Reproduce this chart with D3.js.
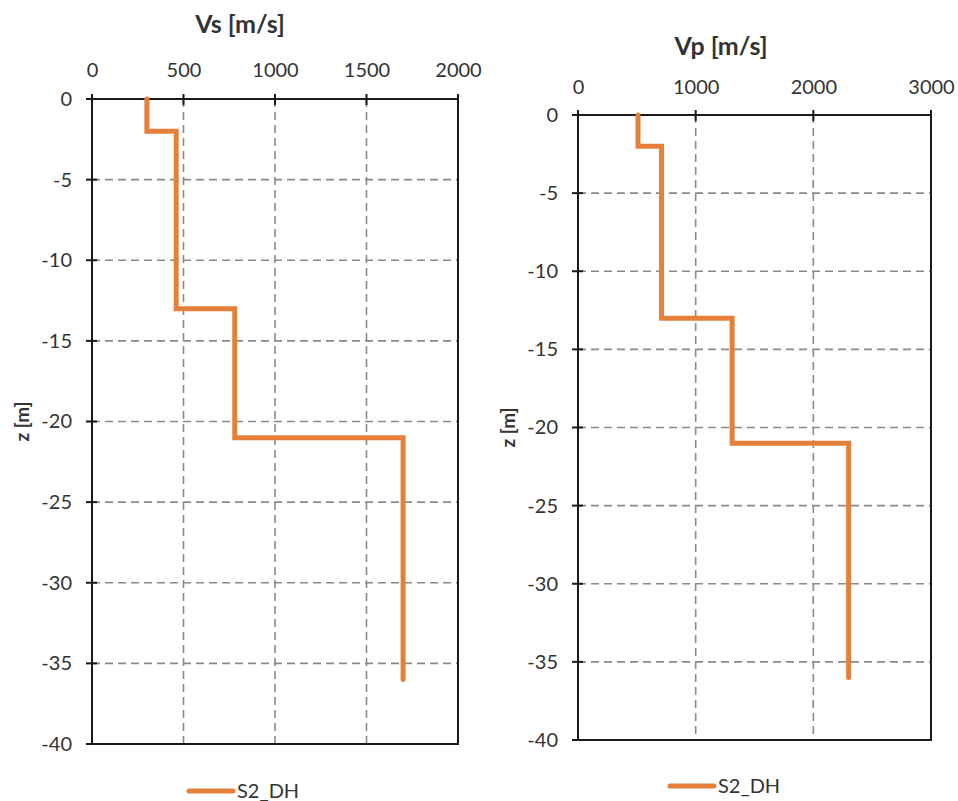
<!DOCTYPE html>
<html>
<head>
<meta charset="utf-8">
<script src="https://cdn.jsdelivr.net/npm/d3@7"></script>
<style>
  html, body { margin: 0; padding: 0; background: #fff; }
  svg { display: block; }
  text { font-family: Lato, "Open Sans", "DejaVu Sans", sans-serif; fill: #333; }
</style>
</head>
<body>
<svg id="chart" width="958" height="801"></svg>
<script>
// Layer boundaries (depth, m) and velocities per layer (m/s)
const depthBreaks = [0, -2, -13, -21, -36];
const vsValues = [300, 460, 780, 1700];
const vpValues = [510, 710, 1310, 2300];

const vsTicks = [0, 500, 1000, 1500, 2000];
const vpTicks = [0, 1000, 2000, 3000];
const zTicks = [0, -5, -10, -15, -20, -25, -30, -35, -40];

const seriesName = "S2_DH";
const lineColor = "#E5803A";

const svg = d3.select("#chart");
const fmt = d => String(d);

// Build stepped profile points from layer velocities
function profile(values) {
  const pts = [];
  values.forEach((v, i) => {
    pts.push([v, depthBreaks[i]]);
    pts.push([v, depthBreaks[i + 1]]);
  });
  return pts;
}

function panel(cfg) {
  const x = d3.scaleLinear().domain([0, cfg.xMax]).range([cfg.left, cfg.right]);
  const y = d3.scaleLinear().domain([0, -40]).range([cfg.top, cfg.bottom]);
  const g = svg.append("g");

  // dashed gridlines
  g.append("g").selectAll("line")
    .data(cfg.xTicks.filter(t => t > 0 && t < cfg.xMax))
    .join("line")
    .attr("x1", d => x(d)).attr("x2", d => x(d))
    .attr("y1", cfg.top).attr("y2", cfg.bottom)
    .attr("stroke", "#8a8a8a").attr("stroke-width", 1.6)
    .attr("stroke-dasharray", "8,5");
  g.append("g").selectAll("line")
    .data(zTicks.filter(t => t < 0 && t > -40))
    .join("line")
    .attr("x1", cfg.left).attr("x2", cfg.right)
    .attr("y1", d => y(d)).attr("y2", d => y(d))
    .attr("stroke", "#8a8a8a").attr("stroke-width", 1.6)
    .attr("stroke-dasharray", "8,5");

  // top axis
  const xAxis = d3.axisTop(x).tickValues(cfg.xTicks).tickSize(0).tickPadding(0).tickFormat(fmt);
  const xa = g.append("g").attr("transform", `translate(0,${cfg.top})`).call(xAxis);
  xa.select(".domain").remove();
  xa.selectAll("text")
    .attr("y", cfg.xLabelY - cfg.top)
    .attr("dy", "0.35em")
    .style("font-size", "20px").style("fill", "#333");
  g.append("g").selectAll("line")
    .data(cfg.xTicks)
    .join("line")
    .attr("x1", d => x(d)).attr("x2", d => x(d))
    .attr("y1", cfg.top - 5).attr("y2", cfg.top + 6)
    .attr("stroke", "#1a1a1a").attr("stroke-width", 2);

  // left axis
  const yAxis = d3.axisLeft(y).tickValues(zTicks).tickSize(0).tickPadding(20).tickFormat(fmt);
  const ya = g.append("g").attr("transform", `translate(${cfg.left},0)`).call(yAxis);
  ya.select(".domain").remove();
  ya.selectAll("text").style("font-size", "20px").style("fill", "#333");
  g.append("g").selectAll("line")
    .data(zTicks)
    .join("line")
    .attr("x1", cfg.left - 6).attr("x2", cfg.left + 5)
    .attr("y1", d => y(d)).attr("y2", d => y(d))
    .attr("stroke", "#1a1a1a").attr("stroke-width", 2);

  // frame
  g.append("rect")
    .attr("x", cfg.left).attr("y", cfg.top)
    .attr("width", cfg.right - cfg.left).attr("height", cfg.bottom - cfg.top)
    .attr("fill", "none").attr("stroke", "#1a1a1a").attr("stroke-width", 2);

  // profile line
  const line = d3.line().x(d => x(d[0])).y(d => y(d[1]));
  g.append("path")
    .datum(profile(cfg.values))
    .attr("d", line)
    .attr("fill", "none")
    .attr("stroke", lineColor)
    .attr("stroke-width", 5)
    .attr("stroke-linecap", "round")
    .attr("stroke-linejoin", "miter");

  // titles
  g.append("text")
    .attr("x", cfg.titleX).attr("y", cfg.titleY)
    .attr("text-anchor", "middle").attr("dy", "0.35em")
    .style("font-size", "25px").style("font-weight", "bold").style("fill", "#333")
    .text(cfg.title);
  g.append("text")
    .attr("transform", `translate(${cfg.zTitleX},${(cfg.top + cfg.bottom) / 2}) rotate(-90)`)
    .attr("text-anchor", "middle").attr("dy", "0.35em")
    .style("font-size", "19px").style("font-weight", "bold").style("fill", "#333")
    .text("z [m]");

  // legend
  g.append("line")
    .attr("x1", cfg.legendX).attr("x2", cfg.legendX + 44)
    .attr("y1", cfg.legendY).attr("y2", cfg.legendY)
    .attr("stroke", lineColor).attr("stroke-width", 5).attr("stroke-linecap", "round");
  g.append("text")
    .attr("x", cfg.legendX + 48).attr("y", cfg.legendY)
    .attr("dy", "0.35em")
    .style("font-size", "20px").style("fill", "#333")
    .text(seriesName);
}

panel({
  values: vsValues, xMax: 2000, xTicks: vsTicks,
  left: 92, right: 458, top: 99, bottom: 744,
  xLabelY: 70, title: "Vs [m/s]", titleX: 240, titleY: 24,
  zTitleX: 22, legendX: 189, legendY: 791
});

panel({
  values: vpValues, xMax: 3000, xTicks: vpTicks,
  left: 578, right: 931, top: 115, bottom: 740,
  xLabelY: 87, title: "Vp [m/s]", titleX: 721, titleY: 46,
  zTitleX: 508, legendX: 670, legendY: 786
});
</script>
</body>
</html>
